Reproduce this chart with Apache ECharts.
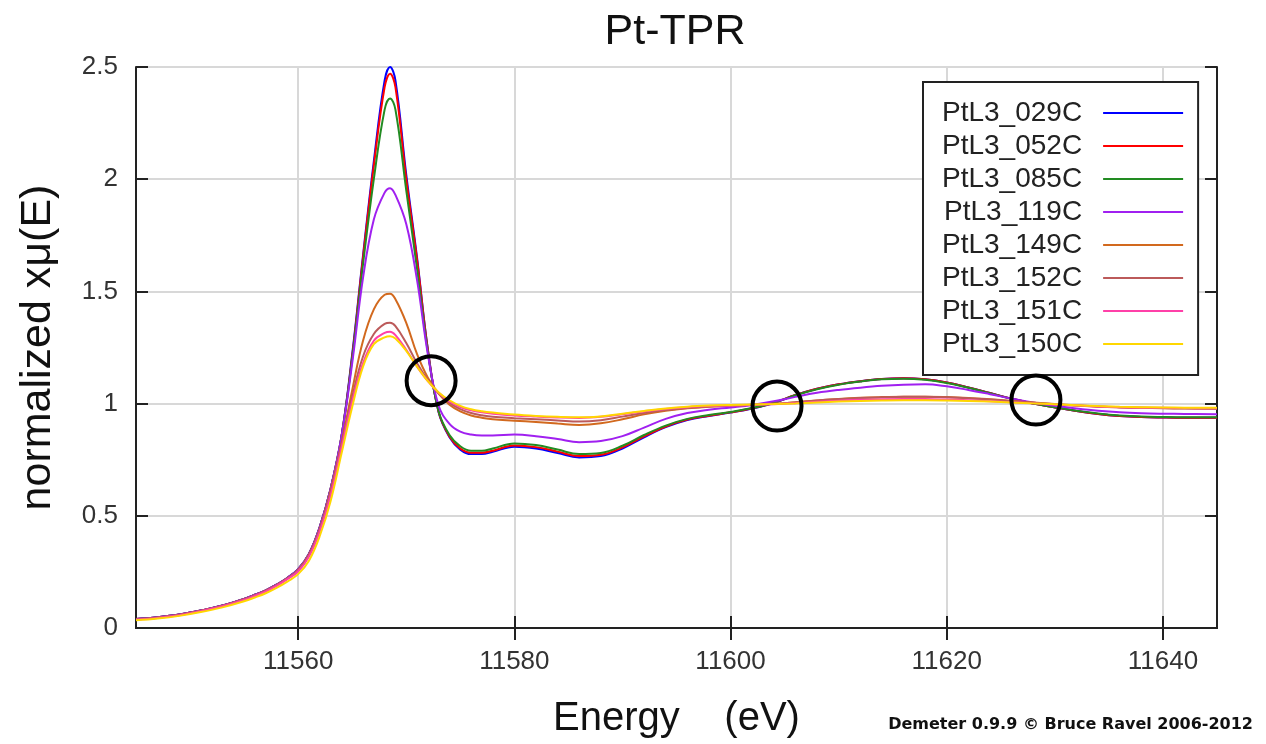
<!DOCTYPE html>
<html>
<head>
<meta charset="utf-8">
<title>Pt-TPR</title>
<script src="https://cdn.jsdelivr.net/npm/echarts@6/dist/echarts.min.js"></script>
<style>
  html, body { margin: 0; padding: 0; background: #fff; }
  #chart { width: 1266px; height: 744px; }
</style>
</head>
<body>
<div id="chart"></div>
<script>
  // energy grid (eV)
  var energy = [11545, 11547, 11549, 11551, 11553, 11555, 11556, 11557, 11558, 11559,
    11560, 11561, 11562, 11563, 11564, 11565, 11566, 11567, 11568, 11568.5,
    11569, 11570, 11571, 11572, 11573, 11574, 11575, 11576, 11577, 11578,
    11580, 11582, 11584, 11586, 11588, 11590, 11592, 11594, 11596, 11598,
    11600, 11602, 11604, 11606, 11608, 11610, 11612, 11614, 11616, 11618,
    11620, 11622, 11624, 11626, 11628, 11630, 11632, 11634, 11636, 11638,
    11640, 11642, 11645];

  var mu029 = [0.040, 0.048, 0.060, 0.078, 0.100, 0.130, 0.148, 0.168, 0.193, 0.223,
    0.262, 0.33, 0.45, 0.62, 0.85, 1.22, 1.66, 2.08, 2.44, 2.50,
    2.44, 2.02, 1.65, 1.24, 0.96, 0.85, 0.795, 0.775, 0.775, 0.785,
    0.808, 0.800, 0.780, 0.760, 0.766, 0.800, 0.850, 0.895, 0.927, 0.945,
    0.960, 0.978, 1.003, 1.038, 1.066, 1.086, 1.100, 1.110, 1.113, 1.108,
    1.094, 1.072, 1.047, 1.022, 1.000, 0.983, 0.967, 0.954, 0.945, 0.940,
    0.938, 0.937, 0.937];

  var mu052 = [0.040, 0.048, 0.060, 0.078, 0.100, 0.130, 0.148, 0.168, 0.193, 0.223,
    0.262, 0.33, 0.45, 0.62, 0.85, 1.21, 1.65, 2.06, 2.41, 2.47,
    2.41, 2.00, 1.64, 1.24, 0.962, 0.853, 0.80, 0.781, 0.781, 0.79,
    0.813, 0.806, 0.786, 0.766, 0.772, 0.805, 0.854, 0.898, 0.929, 0.946,
    0.961, 0.979, 1.004, 1.038, 1.066, 1.086, 1.100, 1.110, 1.113, 1.108,
    1.094, 1.072, 1.047, 1.022, 1.000, 0.983, 0.967, 0.954, 0.945, 0.940,
    0.938, 0.937, 0.937];

  var mu085 = [0.040, 0.048, 0.060, 0.078, 0.100, 0.130, 0.148, 0.168, 0.193, 0.223,
    0.262, 0.33, 0.45, 0.62, 0.85, 1.20, 1.62, 2.00, 2.31, 2.36,
    2.31, 1.95, 1.60, 1.23, 0.965, 0.86, 0.81, 0.79, 0.79, 0.80,
    0.822, 0.815, 0.795, 0.775, 0.78, 0.812, 0.86, 0.902, 0.932, 0.949,
    0.963, 0.98, 1.004, 1.037, 1.064, 1.084, 1.098, 1.108, 1.111, 1.106,
    1.092, 1.071, 1.046, 1.021, 1.000, 0.984, 0.968, 0.956, 0.947, 0.942,
    0.940, 0.939, 0.939];

  var mu119 = [0.040, 0.048, 0.060, 0.078, 0.100, 0.130, 0.148, 0.168, 0.193, 0.223,
    0.262, 0.33, 0.45, 0.62, 0.85, 1.18, 1.56, 1.82, 1.94, 1.96,
    1.93, 1.80, 1.55, 1.22, 0.99, 0.91, 0.875, 0.862, 0.858, 0.858,
    0.862, 0.855, 0.842, 0.828, 0.833, 0.855, 0.893, 0.932, 0.958, 0.973,
    0.983, 0.994, 1.010, 1.030, 1.048, 1.061, 1.071, 1.079, 1.084, 1.086,
    1.077, 1.061, 1.042, 1.022, 1.005, 0.990, 0.978, 0.968, 0.961, 0.957,
    0.955, 0.954, 0.953];

  var mu149 = [0.038, 0.046, 0.058, 0.076, 0.098, 0.127, 0.145, 0.165, 0.19, 0.22,
    0.258, 0.325, 0.44, 0.61, 0.82, 1.06, 1.28, 1.42, 1.485, 1.49,
    1.465, 1.36, 1.22, 1.115, 1.045, 0.995, 0.965, 0.947, 0.937, 0.930,
    0.924, 0.918, 0.911, 0.905, 0.912, 0.93, 0.952, 0.968, 0.979, 0.986,
    0.991, 0.995, 0.999, 1.006, 1.014, 1.021, 1.026, 1.029, 1.031, 1.031,
    1.029, 1.025, 1.019, 1.012, 1.005, 0.998, 0.992, 0.987, 0.984, 0.982,
    0.980, 0.979, 0.978];

  var mu152 = [0.038, 0.046, 0.058, 0.076, 0.098, 0.127, 0.145, 0.165, 0.19, 0.22,
    0.256, 0.322, 0.44, 0.60, 0.81, 1.03, 1.21, 1.31, 1.355, 1.36,
    1.345, 1.27, 1.18, 1.105, 1.045, 1.003, 0.975, 0.958, 0.948, 0.941,
    0.935, 0.930, 0.925, 0.920, 0.926, 0.942, 0.958, 0.971, 0.980, 0.987,
    0.991, 0.995, 0.999, 1.006, 1.014, 1.020, 1.025, 1.028, 1.030, 1.030,
    1.028, 1.024, 1.018, 1.011, 1.004, 0.997, 0.991, 0.986, 0.983, 0.981,
    0.979, 0.978, 0.977];

  var mu151 = [0.037, 0.045, 0.057, 0.075, 0.097, 0.125, 0.143, 0.163, 0.188, 0.218,
    0.252, 0.318, 0.43, 0.59, 0.80, 1.01, 1.18, 1.28, 1.315, 1.32,
    1.305, 1.24, 1.165, 1.10, 1.048, 1.01, 0.985, 0.97, 0.961, 0.955,
    0.947, 0.942, 0.938, 0.936, 0.941, 0.953, 0.965, 0.976, 0.984, 0.989,
    0.992, 0.994, 0.997, 1.002, 1.008, 1.013, 1.017, 1.019, 1.020, 1.020,
    1.018, 1.015, 1.011, 1.006, 1.001, 0.996, 0.991, 0.987, 0.984, 0.982,
    0.981, 0.980, 0.979];

  var mu150 = [0.034, 0.042, 0.054, 0.071, 0.092, 0.119, 0.136, 0.155, 0.179, 0.207,
    0.24, 0.30, 0.41, 0.565, 0.775, 0.985, 1.165, 1.265, 1.295, 1.30,
    1.29, 1.235, 1.165, 1.10, 1.05, 1.015, 0.99, 0.975, 0.966, 0.96,
    0.951, 0.945, 0.941, 0.939, 0.943, 0.955, 0.967, 0.978, 0.986, 0.991,
    0.994, 0.996, 0.998, 1.001, 1.005, 1.009, 1.012, 1.014, 1.015, 1.015,
    1.014, 1.012, 1.009, 1.005, 1.001, 0.997, 0.993, 0.989, 0.986, 0.984,
    0.983, 0.982, 0.981];

  var names = ['PtL3_029C', 'PtL3_052C', 'PtL3_085C', 'PtL3_119C',
    'PtL3_149C', 'PtL3_152C', 'PtL3_151C', 'PtL3_150C'];
  var colors = ['#0000ff', '#ff0000', '#228b22', '#a020f0',
    '#d2691e', '#bc5a5a', '#ff40a8', '#ffd700'];
  var spectra = [mu029, mu052, mu085, mu119, mu149, mu152, mu151, mu150];

  // isosbestic points marked with circles
  var circleE = [11572.3, 11604.3, 11628.25];
  var circleMu = [1.102, 0.989, 1.016];

  var xTicks = [11560, 11580, 11600, 11620, 11640];

  var chart = echarts.init(document.getElementById('chart'));

  var series = spectra.map(function (vals, k) {
    return {
      name: names[k],
      type: 'line',
      smooth: 0.4,
      symbol: 'none',
      xAxisIndex: 0,
      yAxisIndex: 0,
      lineStyle: { color: colors[k], width: 2 },
      itemStyle: { color: colors[k] },
      data: energy.map(function (e, i) { return [e, vals[i]]; })
    };
  });

  series.push({
    name: 'circles',
    type: 'scatter',
    symbol: 'circle',
    symbolSize: 49,
    silent: true,
    z: 10,
    itemStyle: { color: 'rgba(0,0,0,0)', borderColor: '#000', borderWidth: 4, opacity: 1 },
    data: circleE.map(function (e, i) { return [e, circleMu[i]]; })
  });

  var font = 'Liberation Sans, Arial, sans-serif';
  var plain = function (v) { return String(v); };

  var option = {
    backgroundColor: '#fff',
    animation: false,
    textStyle: { fontFamily: font },
    title: {
      text: 'Pt-TPR',
      left: 670,
      textAlign: 'center',
      top: 6,
      textStyle: { fontSize: 43, fontWeight: 'normal', color: '#111', fontFamily: font }
    },
    grid: { left: 136, top: 67, right: 49, bottom: 113 },
    legend: {
      data: names,
      orient: 'vertical',
      left: 923,
      top: 82,
      align: 'right',
      icon: 'rect',
      padding: [17, 15, 17, 19],
      itemGap: 5,
      itemWidth: 80,
      itemHeight: 2,
      backgroundColor: '#fff',
      borderColor: '#222',
      borderWidth: 2,
      borderRadius: 0,
      textStyle: { fontSize: 28, lineHeight: 28, color: '#222', fontFamily: font, padding: [0, 16, 0, 0] }
    },
    xAxis: [{
      type: 'value',
      min: 11545,
      max: 11645,
      name: 'Energy    (eV)',
      nameLocation: 'middle',
      nameGap: 71,
      nameTextStyle: { fontSize: 40, color: '#111', fontFamily: font },
      axisLine: { lineStyle: { color: '#222', width: 2 } },
      axisTick: { inside: false, length: -12, customValues: xTicks, lineStyle: { color: '#222', width: 2 } },
      axisLabel: { customValues: xTicks, formatter: plain, fontSize: 26, color: '#333', margin: 21, fontFamily: font },
      splitLine: { show: true, lineStyle: { color: '#d8d8d8', width: 2 } }
    }, {
      type: 'value',
      position: 'top',
      min: 11545,
      max: 11645,
      axisLine: { lineStyle: { color: '#222', width: 2 } },
      axisTick: { inside: false, length: -12, customValues: xTicks, lineStyle: { color: '#222', width: 2 } },
      axisLabel: { show: false, customValues: xTicks },
      splitLine: { show: false }
    }],
    yAxis: [{
      type: 'value',
      min: 0,
      max: 2.5,
      interval: 0.5,
      name: 'normalized x\u03bc(E)',
      nameLocation: 'middle',
      nameGap: 76,
      nameTextStyle: { fontSize: 43, color: '#111', fontFamily: font },
      axisLine: { show: true, lineStyle: { color: '#222', width: 2 } },
      axisTick: { show: true, inside: true, length: 12, lineStyle: { color: '#222', width: 2 } },
      axisLabel: { fontSize: 26, color: '#333', margin: 18, fontFamily: font },
      splitLine: { show: true, lineStyle: { color: '#d8d8d8', width: 2 } }
    }, {
      type: 'value',
      position: 'right',
      min: 0,
      max: 2.5,
      interval: 0.5,
      axisLine: { show: true, lineStyle: { color: '#222', width: 2 } },
      axisTick: { show: true, inside: true, length: 12, lineStyle: { color: '#222', width: 2 } },
      axisLabel: { show: false },
      splitLine: { show: false }
    }],
    graphic: [{
      type: 'text',
      right: 13,
      top: 717,
      style: {
        text: 'Demeter 0.9.9 \u00a9 Bruce Ravel 2006-2012',
        font: 'bold 16px DejaVu Sans, sans-serif',
        fill: '#111'
      }
    }],
    series: series
  };

  chart.setOption(option);
</script>
</body>
</html>
